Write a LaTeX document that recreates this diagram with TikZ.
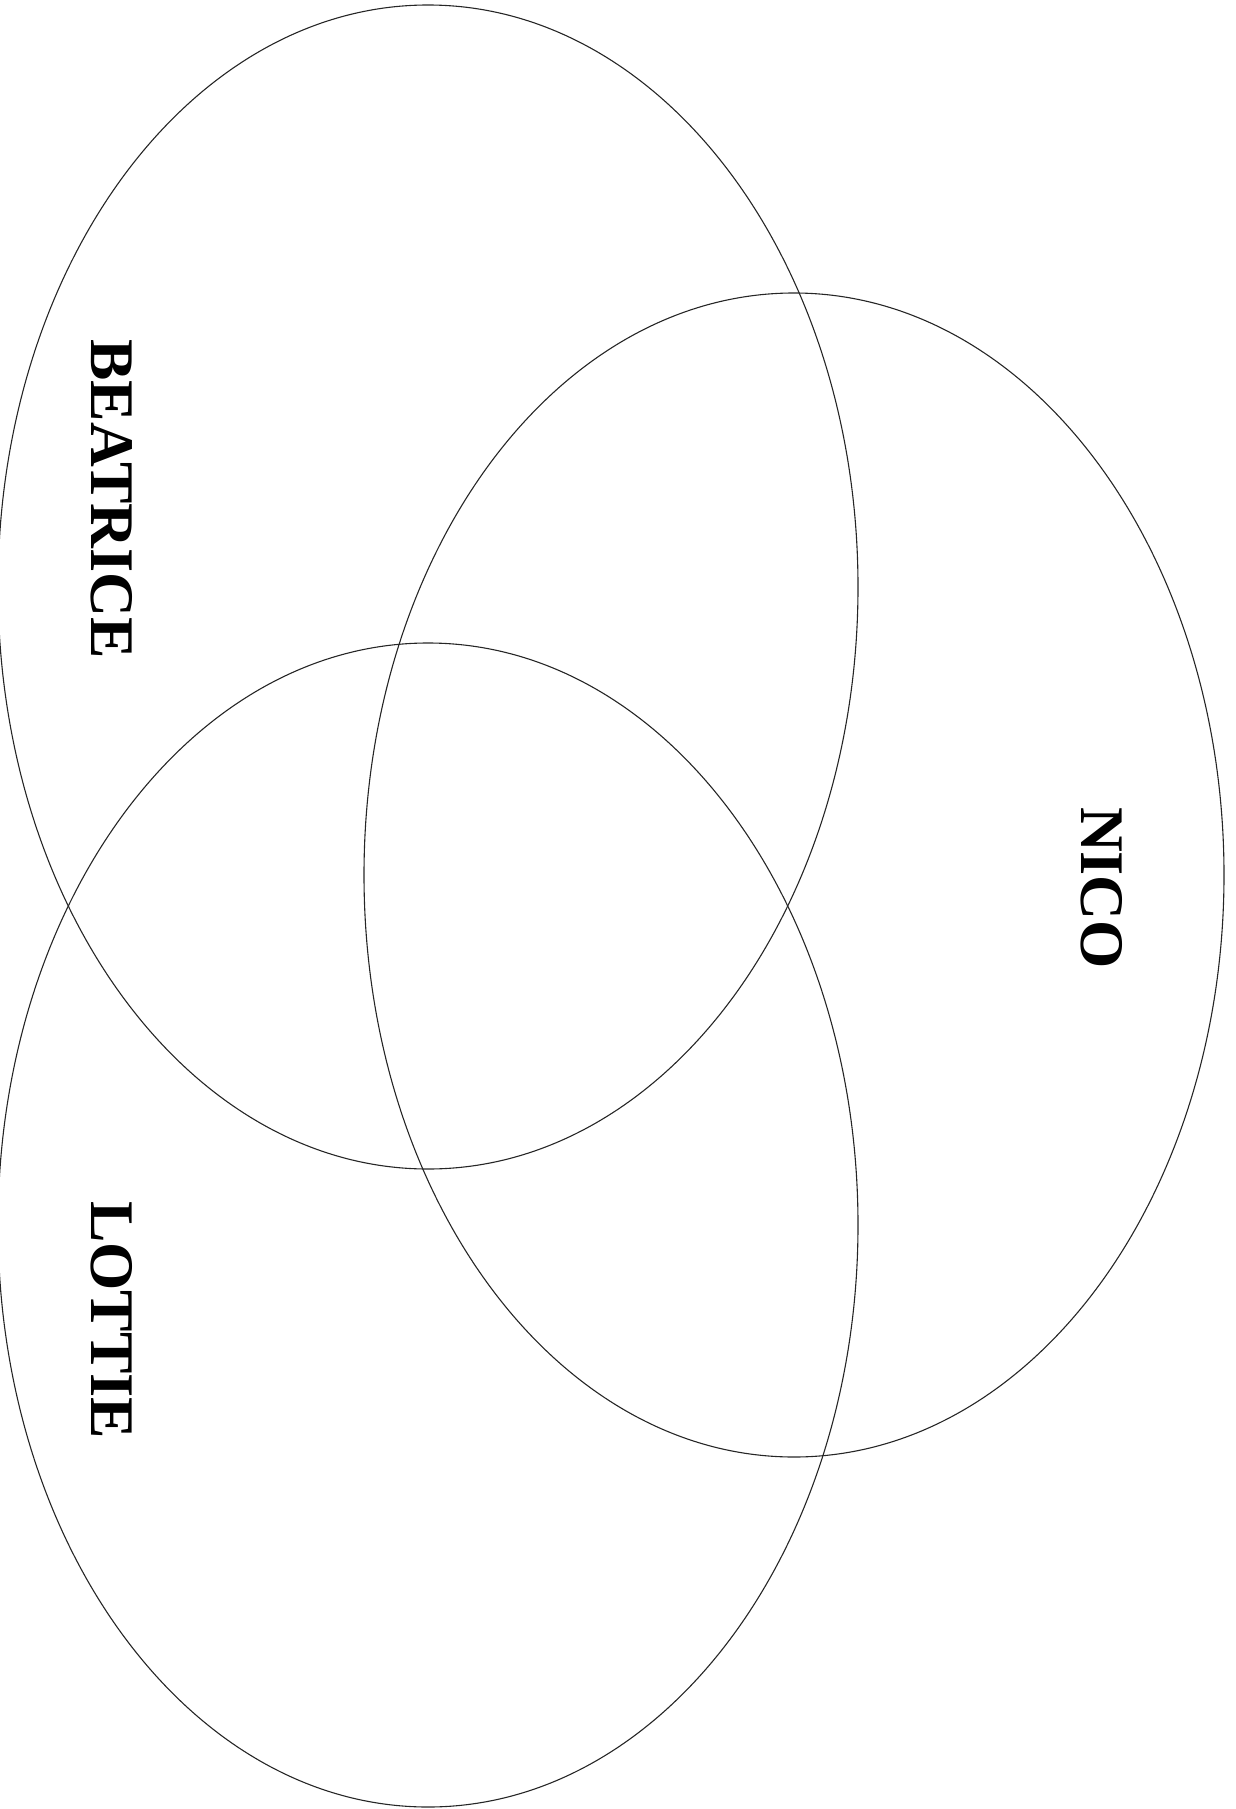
\documentclass[tikz,border=0pt]{standalone}
\usepackage{fontspec}
\setmainfont{Liberation Serif}[BoldFont={Liberation Serif Bold}]
\usetikzlibrary{positioning}

\begin{document}
\begin{tikzpicture}[x=1pt,y=-1pt,
 ring/.style={draw=black!85,line width=1.1pt},
 setname/.style={font=\fontsize{62}{62}\selectfont\bfseries,rotate=-90,inner sep=0pt}]
\useasboundingbox (0,0) rectangle (1236,1809);
\foreach \x/\y in {428/587,428/1225,794/875}
 {\draw[ring] (\x,\y) ellipse (430 and 582);}
\node[setname] (beatrice) at (112,499) {BEATRICE};
\node[setname] (nico) at (1102,888) {NICO};
\node[setname] (lottie) at (112,1320) {LOTTIE};
\end{tikzpicture}
\end{document}
